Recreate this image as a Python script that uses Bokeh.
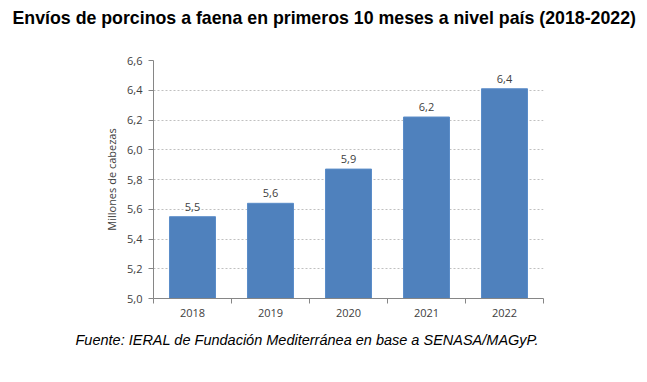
from bokeh.plotting import figure
from bokeh.models import FixedTicker, Title, Range1d
from bokeh.core.properties import value
from bokeh.embed import file_html
from bokeh.resources import INLINE

years = ["2018", "2019", "2020", "2021", "2022"]
envios = [5.55, 5.64, 5.87, 6.22, 6.41]
bar_labels = ["5,5", "5,6", "5,9", "6,2", "6,4"]
y_ticks = [5.0, 5.2, 5.4, 5.6, 5.8, 6.0, 6.2, 6.4, 6.6]
y_tick_labels = ["5,0", "5,2", "5,4", "5,6", "5,8", "6,0", "6,2", "6,4", "6,6"]
title_text = "Envíos de porcinos a faena en primeros 10 meses a nivel país (2018-2022)"
source_text = "Fuente: IERAL de Fundación Mediterránea en base a SENASA/MAGyP."
y_title = "Millones de cabezas"

W, H = 639, 366
FONT = "Open Sans"

xs = [i + 0.5 for i in range(len(years))]
bounds = [float(i) for i in range(len(years) + 1)]

p = figure(width=W, height=H, output_backend="svg", toolbar_location=None,
           x_range=Range1d(0, len(years)), y_range=Range1d(y_ticks[0], y_ticks[-1]),
           min_border_left=153, min_border_right=96, min_border_top=60,
           min_border_bottom=68)
p.outline_line_color = None
p.background_fill_color = "white"

p.vbar(x=xs, top=envios, bottom=y_ticks[0], width=0.59,
       fill_color="#4F81BD", line_color="#5B8DC9", line_width=1)
p.text(x=xs, y=envios, text=bar_labels, y_offset=-6, text_align="center",
       text_baseline="bottom", text_font_size="11px", text_color="#404040",
       text_font=value(FONT))

# y axis
p.yaxis.ticker = FixedTicker(ticks=y_ticks)
p.yaxis.major_label_overrides = {t: l for t, l in zip(y_ticks, y_tick_labels)}
p.yaxis.axis_line_color = "#868686"
p.yaxis.major_tick_line_color = "#868686"
p.yaxis.major_tick_out = 5
p.yaxis.major_tick_in = 0
p.yaxis.minor_tick_line_color = None
p.yaxis.major_label_standoff = 6
p.yaxis.major_label_text_font = FONT
p.yaxis.major_label_text_font_size = "11px"
p.yaxis.major_label_text_color = "#404040"
p.yaxis.axis_label = y_title
p.yaxis.axis_label_text_font = FONT
p.yaxis.axis_label_text_font_size = "11px"
p.yaxis.axis_label_text_font_style = "normal"
p.yaxis.axis_label_text_color = "#404040"
p.yaxis.axis_label_standoff = 5

# x axis
p.xaxis.ticker = FixedTicker(ticks=xs, minor_ticks=bounds)
p.xaxis.major_label_overrides = {x: y for x, y in zip(xs, years)}
p.xaxis.axis_line_color = "#868686"
p.xaxis.major_tick_line_color = None
p.xaxis.major_tick_out = 5
p.xaxis.minor_tick_line_color = "#868686"
p.xaxis.minor_tick_out = 5
p.xaxis.minor_tick_in = 0
p.xaxis.major_label_standoff = 5
p.xaxis.major_label_text_font = FONT
p.xaxis.major_label_text_font_size = "11px"
p.xaxis.major_label_text_color = "#404040"

p.xgrid.grid_line_color = None
p.ygrid.ticker = FixedTicker(ticks=y_ticks)
p.ygrid.grid_line_color = "#C0C0C0"
p.ygrid.grid_line_dash = "2 2"

# spacer between the title and the plot frame (added first = closest to frame)
p.add_layout(Title(text=" ", text_font_size="1px", standoff=30), "above")
p.add_layout(Title(text=title_text, align="left", offset=-141, standoff=0,
                   text_font="Liberation Sans", text_font_size="17.75px",
                   text_font_style="bold", text_color="black"), "above")
p.add_layout(Title(text=source_text, align="left", offset=-78, standoff=20,
                   text_font="Liberation Sans", text_font_size="14.5px",
                   text_font_style="italic", text_color="black"), "below")

open("out.html", "w").write(file_html(p, INLINE))
